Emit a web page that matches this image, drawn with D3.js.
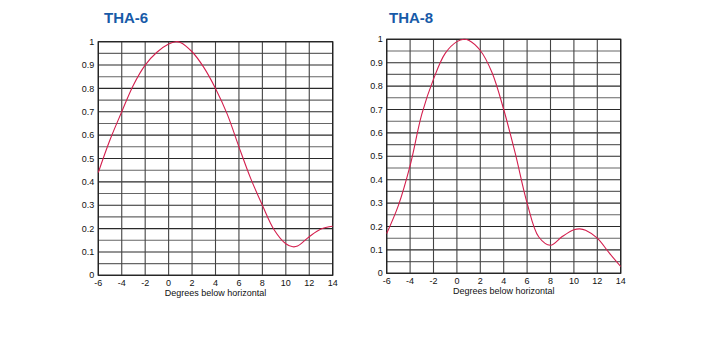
<!DOCTYPE html>
<html><head><meta charset="utf-8">
<script src="https://cdn.jsdelivr.net/npm/d3@7"></script>
<style>body{margin:0;background:#fff;} svg{display:block;}</style>
</head><body>
<svg id="c" width="720" height="358"></svg>
<script>
const xTicks = [-6,-4,-2,0,2,4,6,8,10,12,14];
const yTicks = [0,0.1,0.2,0.3,0.4,0.5,0.6,0.7,0.8,0.9,1];
const yTickLabels = ["0","0.1","0.2","0.3","0.4","0.5","0.6","0.7","0.8","0.9","1"];
const axisTitle = "Degrees below horizontal";

const tha6Deg = [-6,-5,-4,-3,-2,-1,0,0.6,1,2,3,4,5,6,7,8,9,10,10.6,11,12,13,14];
const tha6Val = [0.44,0.58,0.70,0.815,0.90,0.955,0.99,1.0,0.997,0.957,0.89,0.80,0.69,0.55,0.415,0.30,0.195,0.135,0.122,0.125,0.165,0.198,0.21];

const tha8Deg = [-6,-5,-4,-3,-2,-1,0,0.6,1,2,3,4,5,6,7,8,9,10,10.5,11,12,13,14];
const tha8Val = [0.17,0.29,0.46,0.68,0.83,0.94,0.99,1.0,0.996,0.952,0.858,0.70,0.51,0.30,0.155,0.12,0.157,0.186,0.19,0.184,0.15,0.088,0.029];

const charts = [
  {title:"THA-6", deg:tha6Deg, val:tha6Val, left:98.3, right:332.7, top:41.7, bottom:275.3, tx:104, ty:23},
  {title:"THA-8", deg:tha8Deg, val:tha8Val, left:386.7, right:620.7, top:39.3, bottom:273.3, tx:389, ty:23}
];

const svg = d3.select("#c");
charts.forEach(c => {
  const x = d3.scaleLinear().domain([-6,14]).range([c.left,c.right]);
  const y = d3.scaleLinear().domain([0,1]).range([c.bottom,c.top]);
  const g = svg.append("g");
  g.append("text").attr("x",c.tx).attr("y",c.ty).text(c.title)
    .attr("font-family","Liberation Sans, Arial, sans-serif").attr("font-weight","bold")
    .attr("font-size",15).attr("fill","#175aa8");
  const hs = d3.range(0,21).map(i=>i*0.05);
  g.selectAll("line.h").data(hs).enter().append("line")
    .attr("x1",c.left).attr("x2",c.right)
    .attr("y1",d=>y(d)).attr("y2",d=>y(d))
    .attr("stroke",(d,i)=> i%2===0 ? "#2a2a2a" : "#666").attr("stroke-width",1.1);
  g.selectAll("line.v").data(xTicks).enter().append("line")
    .attr("x1",d=>x(d)).attr("x2",d=>x(d))
    .attr("y1",c.top).attr("y2",c.bottom)
    .attr("stroke",(d,i)=> (i===0||i===xTicks.length-1) ? "#222" : "#444").attr("stroke-width",1.1);
  g.append("rect").attr("x",c.left).attr("y",c.top).attr("width",c.right-c.left).attr("height",c.bottom-c.top)
    .attr("fill","none").attr("stroke","#222").attr("stroke-width",1.2);
  g.selectAll("text.yl").data(yTicks).enter().append("text")
    .attr("x",c.left-4).attr("y",d=>y(d)).attr("dy","0.35em")
    .attr("text-anchor","end").attr("font-family","Liberation Sans, Arial, sans-serif")
    .attr("font-size",9).attr("fill","#111").text((d,i)=>yTickLabels[i]);
  g.selectAll("text.xl").data(xTicks).enter().append("text")
    .attr("x",d=>x(d)).attr("y",c.bottom+11)
    .attr("text-anchor","middle").attr("font-family","Liberation Sans, Arial, sans-serif")
    .attr("font-size",9).attr("fill","#111").text(d=>d);
  g.append("text").attr("x",(c.left+c.right)/2).attr("y",c.bottom+21)
    .attr("text-anchor","middle").attr("font-family","Liberation Sans, Arial, sans-serif")
    .attr("font-size",9).attr("fill","#111").text(axisTitle);
  const pts = c.deg.map((d,i)=>[d,c.val[i]]);
  const line = d3.line().x(d=>x(d[0])).y(d=>y(d[1])).curve(d3.curveCatmullRom.alpha(0.5));
  g.append("path").attr("d",line(pts)).attr("fill","none")
    .attr("stroke","#d41f4e").attr("stroke-width",1.1);
});
</script>
</body></html>
